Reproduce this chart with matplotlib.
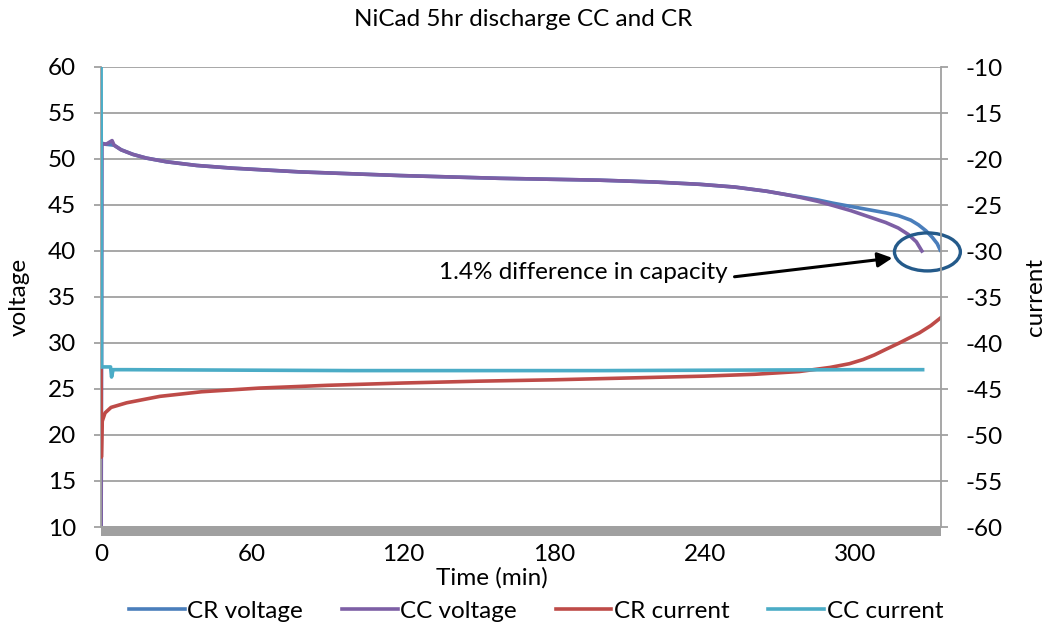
import numpy as np
import matplotlib.pyplot as plt
from matplotlib.patches import Ellipse

plt.rcParams['font.family'] = ['Lato', 'DejaVu Sans']
plt.rcParams['axes.unicode_minus'] = False

# Datos (tiempo en minutos)
cr_v_t = [0, 0.3, 2, 5.2, 8, 12.7, 18, 26, 38, 52.5, 79, 119, 158.5, 198, 220, 238,
          252, 264.6, 272, 277.7, 285, 291, 298, 305, 312, 317, 322, 325, 328,
          330.5, 332.5, 333.7]
cr_v = [0, 51.7, 51.6, 51.5, 51.0, 50.5, 50.1, 49.7, 49.3, 49.0, 48.6, 48.2, 47.9,
        47.7, 47.5, 47.25, 46.95, 46.5, 46.15, 45.9, 45.55, 45.2, 44.85, 44.5, 44.15,
        43.85, 43.35, 42.85, 42.2, 41.5, 40.8, 40.1]

cc_v_t = [0, 0.3, 2, 4.4, 5.2, 8, 12.7, 18, 26, 38, 52.5, 79, 119, 158.5, 198, 220,
          238, 252, 264.6, 272, 277.7, 285, 291, 298, 305, 312, 317, 321, 324.2,
          326.4]
cc_v = [0, 51.7, 51.6, 52.0, 51.5, 51.0, 50.5, 50.1, 49.7, 49.3, 49.0, 48.6, 48.2,
        47.9, 47.7, 47.5, 47.25, 46.95, 46.5, 46.15, 45.85, 45.4, 44.95, 44.4, 43.75,
        43.1, 42.5, 41.8, 41.0, 40.0]

cr_i_t = [0, 0.15, 0.5, 1.6, 4, 10.2, 23.4, 40, 63, 90, 120, 150, 180, 210, 240,
          260, 277.7, 290, 297.6, 303, 307.5, 312, 317.4, 321, 325.4, 330, 333.7]
cr_i = [-43.0, -52.4, -48.5, -47.6, -47.0, -46.5, -45.8, -45.3, -44.9, -44.6,
        -44.35, -44.15, -44.0, -43.8, -43.6, -43.4, -43.1, -42.65, -42.25, -41.8,
        -41.3, -40.7, -40.0, -39.5, -38.9, -38.1, -37.3]

cc_i_t = [0, 0.2, 3.8, 4.2, 4.8, 10, 100, 200, 300, 326.7]
cc_i = [0, -42.6, -42.6, -43.7, -42.9, -42.9, -43.0, -43.0, -42.9, -42.9]

xticks = [0, 60, 120, 180, 240, 300]

# Figura
fig = plt.figure(figsize=(10.47, 6.28), dpi=100)
ax = fig.add_axes([101/1047, 1 - 527/628, 840/1047, 460/628])
ax2 = ax.twinx()

gris = '#a0a0a0'
l1, = ax.plot(cr_v_t, cr_v, color='#4a7ebb', lw=2.6, label='CR voltage')
l2, = ax.plot(cc_v_t, cc_v, color='#7d5fa5', lw=2.6, label='CC voltage')
l3, = ax2.plot(cr_i_t, cr_i, color='#be4b48', lw=2.6, label='CR current')
l4, = ax2.plot(cc_i_t, cc_i, color='#4bacc6', lw=2.6, label='CC current')

ax.set_xlim(0, 334)
ax.set_ylim(10, 60)
ax2.set_ylim(-60, -10)
ax.set_yticks(np.arange(10, 61, 5))
ax2.set_yticks(np.arange(-60, -9, 5))
ax.set_xticks(xticks)

ax.yaxis.grid(True, color=gris, lw=1.3)
ax.set_axisbelow(True)

for s in ['top', 'right']:
    ax.spines[s].set_visible(False)
for s in ['top', 'bottom', 'left']:
    ax2.spines[s].set_visible(False)
ax.spines['left'].set_color(gris)
ax2.spines['right'].set_color(gris)
ax.spines['left'].set_linewidth(1.3)
ax2.spines['right'].set_linewidth(1.3)
ax.spines['bottom'].set_color(gris)
ax.spines['bottom'].set_linewidth(7.2)
ax.spines['bottom'].set_position(('outward', 2.9))
ax.spines['bottom'].set_capstyle('butt')

ax.tick_params(axis='y', length=5, width=1.3, color=gris, pad=13, labelsize=17.5)
ax2.tick_params(axis='y', length=5, width=1.3, color=gris, pad=13, labelsize=17.5)
ax.tick_params(axis='x', length=0, pad=9, labelsize=17.5)

ax.set_ylabel('voltage', fontsize=17.5)
ax.yaxis.set_label_coords(-0.085, 0.5)
ax2.set_ylabel('current', fontsize=17.5)
ax2.yaxis.set_label_coords(1.1, 0.5)
ax.set_xlabel('Time (min)', fontsize=17.5)
ax.xaxis.set_label_coords(0.4655, -0.087)

fig.text(523/1047, 1 - 20/628, 'NiCad 5hr discharge CC and CR', fontsize=17.5,
         ha='center', va='center')

# Anotacion
ax2.annotate('', xy=(314.7, -30.76), xytext=(251.9, -32.8),
             arrowprops=dict(arrowstyle='-|>', color='black', lw=2.2,
                             mutation_scale=22, shrinkA=0, shrinkB=0))
ax2.text(249, -32.3, '1.4% difference in capacity', fontsize=17.5,
         ha='right', va='center')
ax2.add_patch(Ellipse((328.6, -30.1), 26.2, 4.13, fill=False,
                      edgecolor='#245a8a', lw=2.4, clip_on=False))

fig.legend([l1, l2, l3, l4], ['CR voltage', 'CC voltage', 'CR current', 'CC current'],
           loc='center', bbox_to_anchor=(536/1047, 1 - 611/628), ncol=4,
           frameon=False, fontsize=17.5, handlelength=2.3, handletextpad=0.1,
           columnspacing=1.6)

fig.savefig('out.png', dpi=100)
